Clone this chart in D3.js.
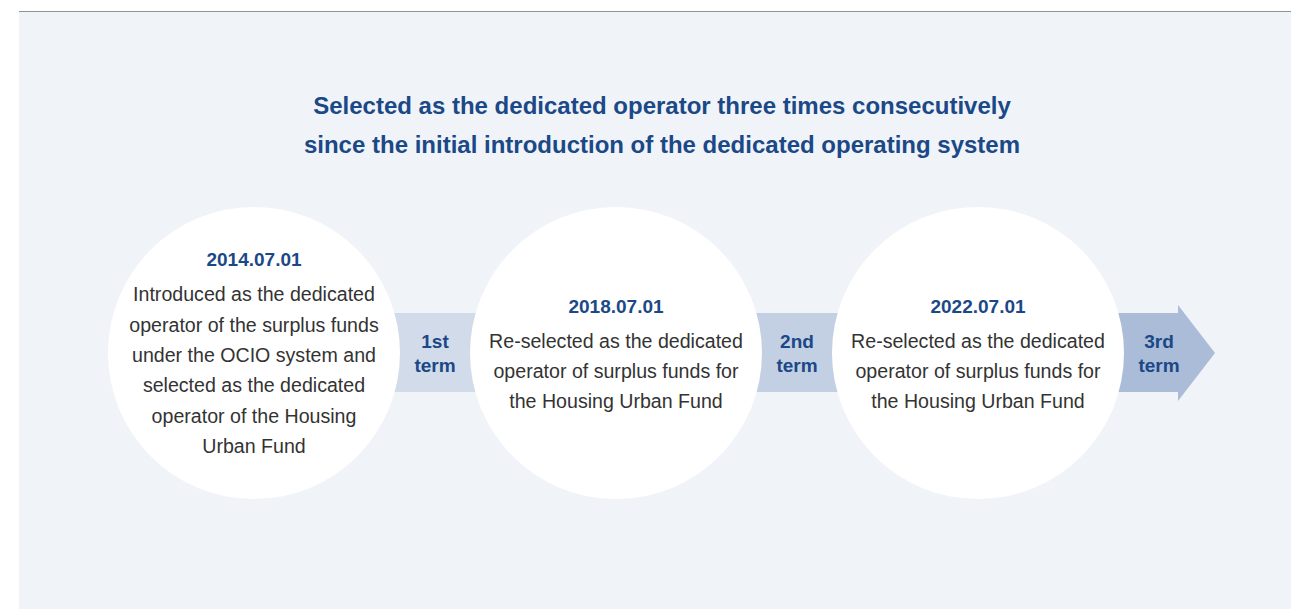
<!DOCTYPE html>
<html><head><meta charset="utf-8">
<script src="https://cdn.jsdelivr.net/npm/d3@7"></script>
<style>html,body{margin:0;padding:0;background:#fff;}svg{display:block;}</style>
</head><body>
<svg id="c" width="1291" height="609"></svg>
<script>
const titleLines = ["Selected as the dedicated operator three times consecutively", "since the initial introduction of the dedicated operating system"];
const dates = ["2014.07.01", "2018.07.01", "2022.07.01"];
const descriptions = [
  ["Introduced as the dedicated", "operator of the surplus funds", "under the OCIO system and", "selected as the dedicated", "operator of the Housing", "Urban Fund"],
  ["Re-selected as the dedicated", "operator of surplus funds for", "the Housing Urban Fund"],
  ["Re-selected as the dedicated", "operator of surplus funds for", "the Housing Urban Fund"]
];
const terms = [["1st", "term"], ["2nd", "term"], ["3rd", "term"]];
const termColors = ["#d2dbe9", "#c3d0e3", "#aabcd8"];

const svg = d3.select("#c");
const font = "'Liberation Sans', Arial, Helvetica, sans-serif";
svg.append("rect").attr("x", 19).attr("y", 11).attr("width", 1272).attr("height", 598).attr("fill", "#f0f4f9");
svg.append("line").attr("x1", 19).attr("x2", 1291).attr("y1", 11.5).attr("y2", 11.5).attr("stroke", "#8f9499").attr("stroke-width", 1.2);

const title = svg.append("text").attr("x", 662).attr("font-family", font).attr("font-weight", "bold")
  .attr("font-size", 24).attr("fill", "#1b4886").attr("text-anchor", "middle");
titleLines.forEach((t, i) => title.append("tspan").attr("x", 662).attr("y", 113.5 + i * 39).text(t));

const x = d3.scaleLinear().domain([0, 2]).range([254, 978]);
const cy = 353, r = 146;
const gap = x(1) - x(0);

// term connectors
terms.forEach((t, i) => {
  const x0 = x(i) + r - 20;
  const g = svg.append("g");
  if (i < 2) {
    g.append("rect").attr("x", x0).attr("y", 313).attr("width", gap - 2 * r + 40).attr("height", 79).attr("fill", termColors[i]);
  } else {
    const tip = x0 + 111, hs = x0 + 74;
    g.append("path").attr("d", `M${x0},313 L${hs},313 L${hs},305 L${tip},${cy} L${hs},401 L${hs},392 L${x0},392 Z`).attr("fill", termColors[i]);
  }
  const cx = x(i) + gap / 2;
  const tx = g.append("text").attr("font-family", font).attr("font-weight", "bold").attr("font-size", 19)
    .attr("fill", "#1b4886").attr("text-anchor", "middle");
  t.forEach((s, j) => tx.append("tspan").attr("x", cx).attr("y", 348 + j * 24).text(s));
});

// circles
dates.forEach((d, i) => {
  const g = svg.append("g");
  g.append("circle").attr("cx", x(i)).attr("cy", cy).attr("r", r).attr("fill", "#ffffff");
  const lines = descriptions[i];
  const total = 1 + lines.length;
  const lh = 30.3;
  const startY = cy - (total - 1) * lh / 2 + (i === 0 ? -3 : -2);
  g.append("text").attr("x", x(i)).attr("y", startY + 7).attr("font-family", font).attr("font-weight", "bold")
    .attr("font-size", 19).attr("fill", "#1b4886").attr("text-anchor", "middle").text(d);
  lines.forEach((l, j) => {
    g.append("text").attr("x", x(i)).attr("y", startY + 7 + (j + 1) * lh + 5).attr("font-family", font)
      .attr("font-size", 19.6).attr("fill", "#333333").attr("text-anchor", "middle").text(l);
  });
});
</script>
</body></html>
